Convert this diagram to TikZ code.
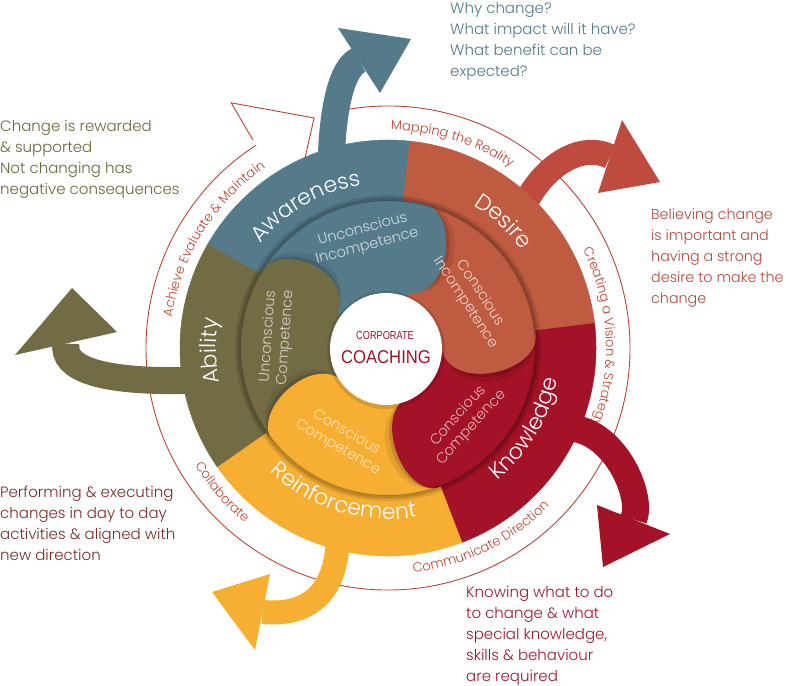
\documentclass[tikz,border=0pt]{standalone}
\usepackage{fontspec}
\setmainfont{Poppins Light}
\newfontfamily\centerfont{Liberation Sans}
\usetikzlibrary{calc,decorations.text}
\definecolor{aw}{HTML}{557B8B}
\definecolor{de}{HTML}{BE5B40}
\definecolor{dearrow}{HTML}{BF4B3E}
\definecolor{kn}{HTML}{A41228}
\definecolor{re}{HTML}{F6AE33}
\definecolor{ab}{HTML}{726C45}
\definecolor{band}{HTML}{C0432F}
\definecolor{tblue}{HTML}{4F7A8A}
\definecolor{tolive}{HTML}{6B6538}
\definecolor{tred}{HTML}{B8463A}
\definecolor{tbrown}{HTML}{7A2C24}
\definecolor{tcrim}{HTML}{A3152B}
\newcommand\petallobe[3]{(#1) .. controls ($(#1)!#3!90:(#2)$) and ($(#2)!#3!-90:(#1)$) .. (#2) -- cycle}
\newcommand\bandfnt{\fontsize{13}{13}\selectfont}
\newcommand\ringfnt{\fontsize{22}{22}\selectfont}
\newcommand\sidefnt{\fontsize{15}{21}\selectfont}
\newcommand\petalfnt{\fontsize{14.5}{17.5}\selectfont}
\begin{document}
\begin{tikzpicture}[x=1pt,y=1pt,
  arrowstem/.style={line width=#1, line cap=butt},
  bandlbl/.style={decorate, decoration={text along path, text align=center, text color=band, text={|\bandfnt|#1}}},
  ringlbl/.style={decorate, decoration={text along path, text align=center, text color=white, text={|\ringfnt|#1}}},
  petallbl/.style={align=center, font=\petalfnt, inner sep=0},
  sidetxt/.style={anchor=north west, align=left, inner sep=0, font=\sidefnt},
  sec/.style={fill=#1, draw=#1, line width=.5pt},
  lobefill/.style={fill=#1, draw=#1, line width=1.6pt}]
\useasboundingbox (-388,-337) rectangle (398,348);

% outer band
\draw[band, line width=0.9pt] (100:242) arc[start angle=100, end angle=-237, radius=242];
\draw[band, line width=0.9pt, fill=white, line join=miter] (123:248) -- (122.6:291) -- (107.8:241.6) -- (-92,151);
\path[bandlbl={Mapping the Reality}] (112.5:218) arc[start angle=112.5, end angle=32.5, radius=218];
\path[bandlbl={Creating a Vision {\&} Strategy}] (43:218) arc[start angle=43, end angle=-37, radius=218];
\path[bandlbl={Achieve Evaluate {\&} Maintain}] (188:218) arc[start angle=188, end angle=108, radius=218];
\path[bandlbl={Communicate Direction}] (-104:226) arc[start angle=-104, end angle=-24, radius=226];
\path[bandlbl={Collaborate}] (191:226) arc[start angle=191, end angle=251, radius=226];

% big arrows
\draw[arrowstem=27pt, aw] (-57,180) .. controls (-56,240) and (-46,281) .. (-29,288);
\fill[aw] (-50,320) -- (23,309) -- (-8,255) -- cycle;
\draw[arrowstem=25pt, dearrow] (130,128) .. controls (148,178) and (190,207) .. (222,191.5);
\fill[dearrow] (234,228) -- (272,166) -- (210,155) -- cycle;
\draw[arrowstem=27pt, kn] (177,-80) .. controls (225,-78) and (256,-148) .. (245.5,-171.5);
\fill[kn] (209,-157) -- (215,-219) -- (282,-186) -- cycle;
\draw[arrowstem=24pt, re] (-50,-185) .. controls (-50,-248) and (-82,-268) .. (-125.5,-264);
\fill[re] (-118,-226) -- (-176,-244) -- (-133,-302) -- cycle;
\draw[arrowstem=27pt, ab] (-185,-32) .. controls (-290,-36) and (-326,-20) .. (-322,4.5);
\fill[ab] (-316,60) -- (-373,-7) -- (-271,16) -- cycle;

% outer ring
\path[sec=aw] (0,0) -- (84:208) arc[start angle=84, end angle=150, radius=208] -- cycle;
\path[sec=ab] (0,0) -- (150:208) arc[start angle=150, end angle=215, radius=208] -- cycle;
\path[sec=re] (0,0) -- (215:208) arc[start angle=215, end angle=291, radius=208] -- cycle;
\path[sec=kn] (0,0) -- (291:208) arc[start angle=291, end angle=367, radius=208] -- cycle;
\path[sec=de] (0,0) -- (7:208) arc[start angle=7, end angle=84, radius=208] -- cycle;

% ring labels
\path[ringlbl={Awareness}] (165:165) arc[start angle=165, end angle=75, radius=165];
\path[ringlbl={Desire}] (92.6:166) arc[start angle=92.6, end angle=2.6, radius=166];
\path[ringlbl={Ability}] (226:172) arc[start angle=226, end angle=136, radius=172];
\path[ringlbl={Knowledge}] (-75.4:172) arc[start angle=-75.4, end angle=14.6, radius=172];
\path[ringlbl={Reinforcement}] (208:171) arc[start angle=208, end angle=298, radius=171];

% inner disc shadow
\fill[black, opacity=.10] (0,0) circle (153);
\fill[black, opacity=.15] (0,0) circle (150.5);

\coordinate (BO) at (32,145);     \coordinate (BI) at (22,56);
\coordinate (DO) at (146.8,18.5); \coordinate (DI) at (55,-2);
\coordinate (KO) at (53.2,-138.1);\coordinate (KI) at (22,-50);
\coordinate (YO) at (-112.5,-96.3);\coordinate (YI) at (-45,-35);
\coordinate (LO) at (-130.1,70.5);\coordinate (LI) at (-51,35);

\begin{scope}
\clip (0,0) circle (148);
\path[sec=aw] (LO) arc[start angle=151.5, end angle=77.6, radius=148] -- (BI) -- (0,0) -- (LI) -- cycle;
\path[sec=de] (BO) arc[start angle=77.6, end angle=7.2, radius=148] -- (DI) -- (0,0) -- (BI) -- cycle;
\path[sec=kn] (DO) arc[start angle=7.2, end angle=-68.9, radius=148] -- (KI) -- (0,0) -- (DI) -- cycle;
\path[sec=re] (KO) arc[start angle=-68.9, end angle=-139.4, radius=148] -- (YI) -- (0,0) -- (KI) -- cycle;
\path[sec=ab] (YO) arc[start angle=220.6, end angle=151.5, radius=148] -- (LI) -- (0,0) -- (YI) -- cycle;
% lobes with soft shadows
\fill[black, opacity=.08] \petallobe{BO}{BI}{53pt};
\fill[black, opacity=.14] \petallobe{BO}{BI}{46pt};
\path[lobefill=aw] \petallobe{BO}{BI}{40pt};
\fill[black, opacity=.08] \petallobe{DO}{DI}{56pt};
\fill[black, opacity=.14] \petallobe{DO}{DI}{49pt};
\path[lobefill=de] \petallobe{DO}{DI}{43pt};
\fill[black, opacity=.08] \petallobe{KO}{KI}{53pt};
\fill[black, opacity=.14] \petallobe{KO}{KI}{46pt};
\path[lobefill=kn] \petallobe{KO}{KI}{40pt};
\fill[black, opacity=.08] \petallobe{YO}{YI}{55pt};
\fill[black, opacity=.14] \petallobe{YO}{YI}{48pt};
\path[lobefill=re] \petallobe{YO}{YI}{42pt};
\fill[black, opacity=.08] \petallobe{LO}{LI}{57pt};
\fill[black, opacity=.14] \petallobe{LO}{LI}{50pt};
\path[lobefill=ab] \petallobe{LO}{LI}{44pt};
\draw[black, opacity=.3, line width=2pt] (0,0) circle (148);
\end{scope}

% center
\fill[black, opacity=.12] (-2,-2) circle (59);
\fill[white] (-2,-1) circle (56);
\node[text=kn, font=\centerfont\fontsize{11.5}{12}\selectfont, xscale=.8] (corp) at (-3,12) {CORPORATE};
\node[text=kn, font=\centerfont\fontsize{18.5}{19}\selectfont, xscale=.9] (coach) at (-2,-9) {COACHING};

% petal labels
\node[petallbl, text=white!72!aw, rotate=15] (pl1) at (-23,110) {Unconscious\\Incompetence};
\node[petallbl, text=white!75!de, rotate=-57] (pl2) at (85,50) {Conscious\\Incompetence};
\node[petallbl, text=white!70!kn, rotate=48] (pl3) at (77,-74) {Conscious\\Competence};
\node[petallbl, text=white!65!re, rotate=-30] (pl4) at (-46,-92) {Conscious\\Competence};
\node[petallbl, text=white!70!ab, rotate=86] (pl5) at (-111,11) {Unconscious\\Competence};

% side texts
\node[sidetxt, text=tblue] (t1) at (62,346) {Why change?\\What impact will it have?\\What benefit can be\\expected?};
\node[sidetxt, text=tolive] (t2) at (-388,228) {Change is rewarded\\\& supported\\Not changing has\\negative consequences};
\node[sidetxt, text=tred, font=\fontsize{14.3}{21}\selectfont] (t3) at (263,139) {Believing change\\is important and\\having a strong\\desire to make the\\change};
\node[sidetxt, text=tbrown] (t4) at (-388,-138) {Performing \& executing\\changes in day to day\\activities \& aligned with\\new direction};
\node[sidetxt, text=tcrim] (t5) at (78,-238) {Knowing what to do\\to change \& what\\special knowledge,\\skills \& behaviour\\are required};
\end{tikzpicture}
\end{document}
